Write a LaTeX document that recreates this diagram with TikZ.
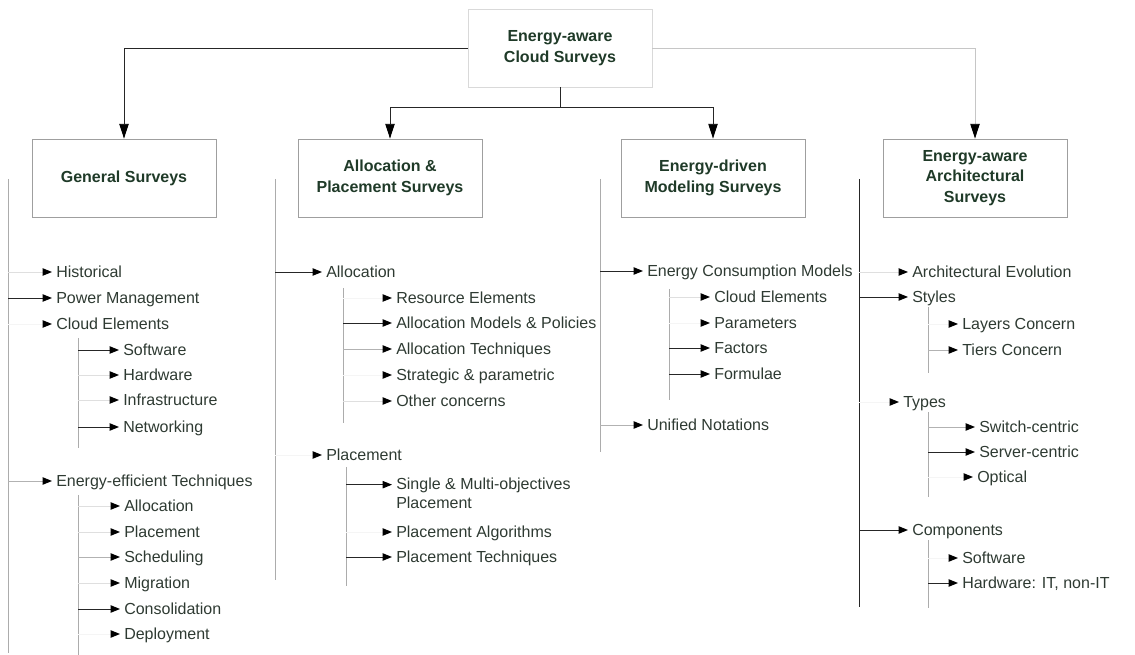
\documentclass[tikz,border=0pt]{standalone}
\usepackage{fontspec}
\setmainfont{Liberation Sans}
\usetikzlibrary{arrows.meta}
\definecolor{boxgreen}{RGB}{31,58,40}
\definecolor{leafgray}{RGB}{46,58,50}

\begin{document}
\begin{tikzpicture}[x=0.75pt, y=-0.75pt, every node/.style={font=\fontsize{12}{14}\selectfont},
  survey/.style={draw=gray!75, line width=0.6pt, minimum width=138pt, minimum height=58.5pt, align=center, text=boxgreen, font=\bfseries\fontsize{12}{15.5}\selectfont},
  leaf/.style={anchor=west, inner xsep=3pt, inner ysep=0pt, text height=9pt, text depth=1pt, text=leafgray},
  bigarrow/.style={-{Triangle[length=11pt, width=7pt, color=black]}, line width=0.6pt},
  branch/.style={-{Triangle[length=7pt, width=5.5pt, color=black]}, line width=0.7pt},
  spine/.style={draw=gray!65, line width=0.7pt},
  dk/.style={draw=black!85}, md/.style={draw=gray!60}, lt/.style={draw=gray!25}, nl/.style={draw=gray!8}]

\useasboundingbox (0,0) rectangle (1135,655);

% survey boxes
\node[survey, draw=gray!30] (top) at (560,48) {Energy-aware\\Cloud Surveys};
\node[survey] (gen) at (124,178) {General Surveys};
\node[survey] (alloc) at (390,178) {Allocation \&\\Placement Surveys};
\node[survey] (model) at (713,178) {Energy-driven\\Modeling Surveys};
\node[survey] (arch) at (975,178) {Energy-aware\\Architectural\\Surveys};

\coordinate (mid) at (560,107);
\draw[bigarrow, dk] (top.west) -| (gen);
\draw[bigarrow, draw=gray!45] (top.east) -| (arch);
\draw[dk] (top) -- (mid);
\draw[bigarrow, dk] (mid) -| (alloc);
\draw[bigarrow, dk] (mid) -| (model);

% general surveys
\coordinate (gtop) at (8,179); \coordinate (gbot) at (8,653);
\draw[spine] (gtop) -- (gbot);
\node[leaf] (hist) at (52,272) {Historical};
\node[leaf] (pm) at (52,298) {Power Management};
\node[leaf] (ce) at (52,324) {Cloud Elements};
\node[leaf] (eet) at (52,481) {Energy-efficient Techniques};
\draw[branch, lt] (gtop |- hist) -- (hist);
\draw[branch, dk] (gtop |- pm) -- (pm);
\draw[branch, nl] (gtop |- ce) -- (ce);
\draw[branch, md] (gtop |- eet) -- (eet);

\coordinate (cetop) at (78,338); \coordinate (cebot) at (78,448);
\draw[spine] (cetop) -- (cebot);
\node[leaf] (sw) at (119,350) {Software};
\node[leaf] (hw) at (119,375) {Hardware};
\node[leaf] (infra) at (119,400) {Infrastructure};
\node[leaf] (net) at (119,427) {Networking};
\draw[branch, dk] (cetop |- sw) -- (sw);
\draw[branch, lt] (cetop |- hw) -- (hw);
\draw[branch, lt] (cetop |- infra) -- (infra);
\draw[branch, dk] (cetop |- net) -- (net);

\coordinate (eettop) at (78,495); \coordinate (eetbot) at (78,655);
\draw[spine] (eettop) -- (eetbot);
\node[leaf] (eal) at (120,506) {Allocation};
\node[leaf] (epl) at (120,532) {Placement};
\node[leaf] (sch) at (120,557) {Scheduling};
\node[leaf] (mig) at (120,583) {Migration};
\node[leaf] (cons) at (120,609) {Consolidation};
\node[leaf] (dep) at (120,634) {Deployment};
\draw[branch, lt] (eettop |- eal) -- (eal);
\draw[branch, lt] (eettop |- epl) -- (epl);
\draw[branch, md] (eettop |- sch) -- (sch);
\draw[branch, lt] (eettop |- mig) -- (mig);
\draw[branch, dk] (eettop |- cons) -- (cons);
\draw[branch, nl] (eettop |- dep) -- (dep);

% allocation & placement surveys
\coordinate (atop) at (275,179); \coordinate (abot) at (275,580);
\draw[spine] (atop) -- (abot);
\node[leaf] (alc) at (322,272) {Allocation};
\node[leaf] (plc) at (322,455) {Placement};
\draw[branch, dk] (atop |- alc) -- (alc);
\draw[branch, nl] (atop |- plc) -- (plc);

\coordinate (alctop) at (343,288); \coordinate (alcbot) at (343,423);
\draw[spine] (alctop) -- (alcbot);
\node[leaf] (re) at (392,298) {Resource Elements};
\node[leaf] (amp) at (392,323) {Allocation Models \& Policies};
\node[leaf] (atec) at (392,349) {Allocation Techniques};
\node[leaf] (strat) at (392,375) {Strategic \& parametric};
\node[leaf] (oc) at (392,401) {Other concerns};
\draw[branch, nl] (alctop |- re) -- (re);
\draw[branch, dk] (alctop |- amp) -- (amp);
\draw[branch, md] (alctop |- atec) -- (atec);
\draw[branch, nl] (alctop |- strat) -- (strat);
\draw[branch, lt] (alctop |- oc) -- (oc);

\coordinate (plctop) at (346,467); \coordinate (plcbot) at (346,586);
\draw[spine] (plctop) -- (plcbot);
\node[anchor=north west, inner xsep=3pt, inner ysep=0pt, align=left, text=leafgray] (smp) at (392,478) {Single \& Multi-objectives\\Placement};
\coordinate (smpin) at ([yshift=-5pt]smp.north west);
\node[leaf] (palg) at (392,532) {Placement Algorithms};
\node[leaf] (ptec) at (392,557) {Placement Techniques};
\draw[branch, dk] (plctop |- smpin) -- (smpin);
\draw[branch, nl] (plctop |- palg) -- (palg);
\draw[branch, dk] (plctop |- ptec) -- (ptec);

% energy-driven modeling surveys
\coordinate (mtop) at (600,179); \coordinate (mbot) at (600,452);
\draw[spine] (mtop) -- (mbot);
\node[leaf] (ecm) at (643,271) {Energy Consumption Models};
\node[leaf] (un) at (643,425) {Unified Notations};
\draw[branch, dk] (mtop |- ecm) -- (ecm);
\draw[branch, md] (mtop |- un) -- (un);

\coordinate (ecmtop) at (669,289); \coordinate (ecmbot) at (669,400);
\draw[spine] (ecmtop) -- (ecmbot);
\node[leaf] (cel) at (710,297) {Cloud Elements};
\node[leaf] (par) at (710,323) {Parameters};
\node[leaf] (fac) at (710,348) {Factors};
\node[leaf] (form) at (710,374) {Formulae};
\draw[branch, lt] (ecmtop |- cel) -- (cel);
\draw[branch, nl] (ecmtop |- par) -- (par);
\draw[branch, dk] (ecmtop |- fac) -- (fac);
\draw[branch, dk] (ecmtop |- form) -- (form);

% energy-aware architectural surveys
\coordinate (rtop) at (859,179); \coordinate (rbot) at (859,607);
\draw[spine, dk] (rtop) -- (rbot);
\node[leaf] (ae) at (908,272) {Architectural Evolution};
\node[leaf] (sty) at (908,297) {Styles};
\node[leaf] (typ) at (899,402) {Types};
\node[leaf] (comp) at (908,530) {Components};
\draw[branch, lt] (rtop |- ae) -- (ae);
\draw[branch, dk] (rtop |- sty) -- (sty);
\draw[branch, nl] (rtop |- typ) -- (typ);
\draw[branch, dk] (rtop |- comp) -- (comp);

\coordinate (stytop) at (928,307); \coordinate (stybot) at (928,373);
\draw[spine] (stytop) -- (stybot);
\node[leaf] (lc) at (958,324) {Layers Concern};
\node[leaf] (tc) at (958,350) {Tiers Concern};
\draw[branch, nl] (stytop |- lc) -- (lc);
\draw[branch, md] (stytop |- tc) -- (tc);

\coordinate (typtop) at (928,412); \coordinate (typbot) at (928,497);
\draw[spine] (typtop) -- (typbot);
\node[leaf] (swc) at (975,427) {Switch-centric};
\node[leaf] (svc) at (975,452) {Server-centric};
\node[leaf] (opt) at (973,477) {Optical};
\draw[branch, md] (typtop |- swc) -- (swc);
\draw[branch, dk] (typtop |- svc) -- (svc);
\draw[branch, nl] (typtop |- opt) -- (opt);

\coordinate (comptop) at (928,540); \coordinate (compbot) at (928,608);
\draw[spine] (comptop) -- (compbot);
\node[leaf] (csw) at (958,558) {Software};
\node[leaf] (chw) at (958,583) {Hardware: IT, non-IT};
\draw[branch, nl] (comptop |- csw) -- (csw);
\draw[branch, dk] (comptop |- chw) -- (chw);

\end{tikzpicture}
\end{document}
